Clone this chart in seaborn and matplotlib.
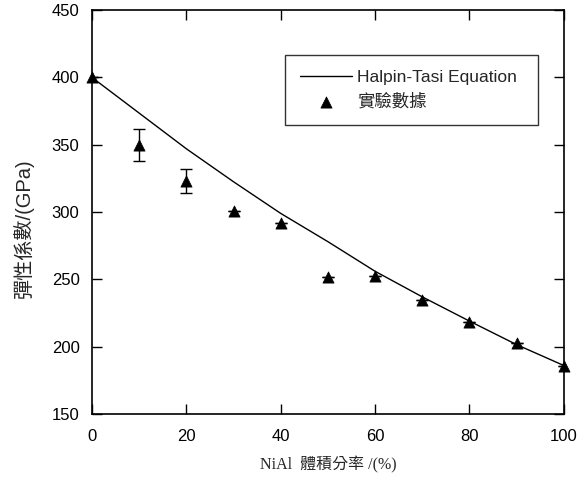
import matplotlib
matplotlib.use("Agg")
import matplotlib.pyplot as plt
import seaborn as sns

# Halpin-Tsai curve, every 10 vol%
curve_x = [0, 10, 20, 30, 40, 50, 60, 70, 80, 90, 100]
curve_y = [400, 373.5, 347, 322.5, 299, 278, 256, 237, 219, 201.5, 186]

# measured modulus with error bars
exp_x = [0, 10, 20, 30, 40, 50, 60, 70, 80, 90, 100]
exp_y = [400, 350, 323, 301, 292, 251.5, 252.5, 234.5, 218.5, 202.5, 185.5]
exp_err = [0, 12, 9, 0, 0, 0, 0, 0, 0, 0, 0]

x_ticks = [0, 20, 40, 60, 80, 100]
y_ticks = [150, 200, 250, 300, 350, 400, 450]

sns.set_theme(style="ticks")
plt.rcParams["font.family"] = ["Liberation Sans", "Noto Sans CJK TC"]

fig = plt.figure(figsize=(5.86, 4.83), dpi=100)
ax = fig.add_axes([0.157, 0.143, 0.805, 0.836])

sns.lineplot(x=curve_x, y=curve_y, color="black", linewidth=1.0, ax=ax,
             label="Halpin-Tasi Equation")
ax.errorbar(exp_x, exp_y, yerr=exp_err, fmt="none", ecolor="black",
            elinewidth=1.0, capsize=4, capthick=1.0)
sns.scatterplot(x=exp_x, y=exp_y, marker="^", s=65, color="black",
                edgecolor="black", linewidth=0.5, ax=ax, label="實驗數據",
                zorder=3, clip_on=False)

ax.set_xlim(0, 100)
ax.set_ylim(150, 450)
ax.set_xticks(x_ticks)
ax.set_yticks(y_ticks)
ax.tick_params(direction="in", length=7, width=1.0, top=True, right=True,
               labelsize=12, colors="black")
ax.tick_params(axis="x", pad=11)
ax.tick_params(axis="y", pad=9)
for sp in ax.spines.values():
    sp.set_visible(True)
    sp.set_linewidth(1.2)
    sp.set_color("black")

ax.set_ylabel("彈性係數/(GPa)", fontsize=14.5,
              family=["Liberation Sans", "Noto Sans CJK TC"])
ax.yaxis.set_label_coords(-0.124, 0.46)
ax.set_xlabel("NiAl  體積分率 /(%)", fontsize=11.5, labelpad=9,
              family=["Liberation Serif", "Noto Sans CJK TC"])

leg = ax.legend(loc="upper left", bbox_to_anchor=(0.409, 0.889, 0.536, 0.0),
                mode="expand", frameon=True, fancybox=False, fontsize=12.5,
                borderpad=0.85, labelspacing=0.5, handlelength=3.0,
                handletextpad=0.3, borderaxespad=0)
leg.get_frame().set_edgecolor("black")
leg.get_frame().set_linewidth(1.0)

fig.savefig("out.png", dpi=100)
